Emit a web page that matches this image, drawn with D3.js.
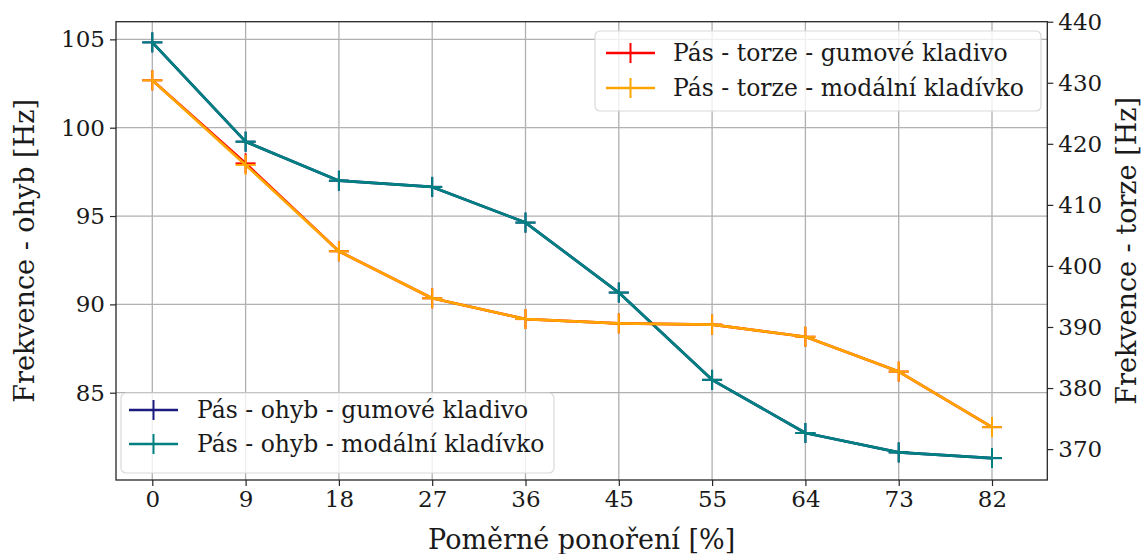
<!DOCTYPE html>
<html>
<head>
<meta charset="utf-8">
<script src="https://cdn.jsdelivr.net/npm/d3@7/dist/d3.min.js"></script>
<style>
  html, body { margin: 0; padding: 0; background: #ffffff; }
  svg { display: block; font-family: "DejaVu Serif", serif; }
</style>
</head>
<body>
<svg id="chart" width="1145" height="554"></svg>
<script>
// ---- data ----
const categories = ["0", "9", "18", "27", "36", "45", "55", "64", "73", "82"];
const ohybGumove  = [104.83, 99.21, 97.00, 96.65, 94.63, 90.67, 85.73, 82.72, 81.62, 81.30];
const ohybModalni = [104.83, 99.21, 97.00, 96.65, 94.63, 90.67, 85.73, 82.72, 81.62, 81.30];
const torzeGumove  = [430.4, 416.8, 402.4, 394.7, 391.3, 390.6, 390.4, 388.4, 382.7, 373.6];
const torzeModalni = [430.4, 416.55, 402.4, 394.7, 391.3, 390.6, 390.4, 388.4, 382.7, 373.6];
const leftTicks  = [85, 90, 95, 100, 105];
const rightTicks = [370, 380, 390, 400, 410, 420, 430, 440];
const leftDomain  = [80.06, 106.0];
const rightDomain = [364.94, 440];

const legendRight = [
  { label: "Pás - torze - gumové kladivo", color: "#ff0000" },
  { label: "Pás - torze - modální kladívko", color: "#ffa500" }
];
const legendLeft = [
  { label: "Pás - ohyb - gumové kladivo", color: "#1a1a80" },
  { label: "Pás - ohyb - modální kladívko", color: "#008080" }
];

// ---- layout ----
const W = 1145, H = 554;
const plot = { left: 116, right: 1047.3, top: 21.7, bottom: 480 };
const tickFont = 23;
const legendFont = 23.5;
const labelFont = 27;

const svg = d3.select("#chart");

const x = d3.scalePoint().domain(categories).range([152.3, 992]);
const yL = d3.scaleLinear().domain(leftDomain).range([plot.bottom, plot.top]);
const yR = d3.scaleLinear().domain(rightDomain).range([plot.bottom, plot.top]);

// grid
const grid = svg.append("g");
grid.selectAll("line.v").data(categories).enter().append("line")
  .attr("x1", d => x(d)).attr("x2", d => x(d))
  .attr("y1", plot.top).attr("y2", plot.bottom)
  .attr("stroke", "#b0b0b0").attr("stroke-width", 1.3);
grid.selectAll("line.h").data(leftTicks).enter().append("line")
  .attr("x1", plot.left).attr("x2", plot.right)
  .attr("y1", d => yL(d)).attr("y2", d => yL(d))
  .attr("stroke", "#b0b0b0").attr("stroke-width", 1.3);

// series
function drawSeries(vals, scale, color) {
  const line = d3.line().x((d, i) => x(categories[i])).y(d => scale(d));
  const g = svg.append("g");
  g.append("path").datum(vals).attr("d", line)
    .attr("fill", "none").attr("stroke", color).attr("stroke-width", 2.7)
    .attr("stroke-linejoin", "round");
  vals.forEach((v, i) => {
    const cx = x(categories[i]), cy = scale(v);
    g.append("line").attr("x1", cx - 10).attr("x2", cx + 10).attr("y1", cy).attr("y2", cy)
      .attr("stroke", color).attr("stroke-width", 2);
    g.append("line").attr("x1", cx).attr("x2", cx).attr("y1", cy - 10).attr("y2", cy + 10)
      .attr("stroke", color).attr("stroke-width", 2);
  });
}
drawSeries(ohybGumove, yL, legendLeft[0].color);
drawSeries(ohybModalni, yL, legendLeft[1].color);

function drawLegend(items, box) {
  const g = svg.append("g");
  g.append("rect").attr("x", box.x).attr("y", box.y).attr("width", box.w).attr("height", box.h)
    .attr("rx", 5).attr("fill", "#ffffff").attr("fill-opacity", 0.8)
    .attr("stroke", "#d9d9d9").attr("stroke-width", 1.2);
  items.forEach((it, i) => {
    const cy = box.y0 + i * box.dy;
    g.append("line").attr("x1", box.lx0).attr("x2", box.lx1).attr("y1", cy).attr("y2", cy)
      .attr("stroke", it.color).attr("stroke-width", 2.7);
    const mx = (box.lx0 + box.lx1) / 2;
    g.append("line").attr("x1", mx).attr("x2", mx).attr("y1", cy - 10).attr("y2", cy + 10)
      .attr("stroke", it.color).attr("stroke-width", 2);
    g.append("text").attr("x", box.tx).attr("y", cy).attr("dy", "0.35em")
      .attr("font-size", legendFont).attr("fill", "#1a1a1a").text(it.label);
  });
}
drawLegend(legendLeft, { x: 121, y: 393, w: 433, h: 80, y0: 410, dy: 34, lx0: 129, lx1: 178, tx: 197 });

// ax2 series on top
drawSeries(torzeGumove, yR, legendRight[0].color);
drawSeries(torzeModalni, yR, legendRight[1].color);

drawLegend(legendRight, { x: 595, y: 31, w: 446, h: 80, y0: 53, dy: 35, lx0: 606, lx1: 655, tx: 673 });

// spines
svg.append("rect").attr("x", plot.left).attr("y", plot.top)
  .attr("width", plot.right - plot.left).attr("height", plot.bottom - plot.top)
  .attr("fill", "none").attr("stroke", "#262626").attr("stroke-width", 1.3);

// axes
const axB = svg.append("g").attr("transform", `translate(0,${plot.bottom})`)
  .call(d3.axisBottom(x).tickSize(6).tickPadding(5));
const axL = svg.append("g").attr("transform", `translate(${plot.left},0)`)
  .call(d3.axisLeft(yL).tickValues(leftTicks).tickFormat(d3.format("d")).tickSize(6).tickPadding(5));
const axR = svg.append("g").attr("transform", `translate(${plot.right},0)`)
  .call(d3.axisRight(yR).tickValues(rightTicks).tickFormat(d3.format("d")).tickSize(6).tickPadding(5));
[axB, axL, axR].forEach(a => {
  a.select(".domain").remove();
  a.selectAll(".tick line").attr("stroke", "#262626").attr("stroke-width", 1.2);
  a.selectAll(".tick text").attr("font-size", tickFont).attr("fill", "#1a1a1a")
    .attr("font-family", "DejaVu Serif, serif");
});

// axis titles
svg.append("text").attr("x", (plot.left + plot.right) / 2).attr("y", 540)
  .attr("text-anchor", "middle").attr("dy", "0.35em").attr("font-size", labelFont).attr("fill", "#1a1a1a")
  .text("Poměrné ponoření [%]");
svg.append("text").attr("transform", `translate(25,${(plot.top + plot.bottom) / 2}) rotate(-90)`)
  .attr("text-anchor", "middle").attr("dy", "0.35em").attr("font-size", labelFont).attr("fill", "#1a1a1a")
  .text("Frekvence - ohyb [Hz]");
svg.append("text").attr("transform", `translate(1127,${(plot.top + plot.bottom) / 2}) rotate(-90)`)
  .attr("text-anchor", "middle").attr("dy", "0.35em").attr("font-size", labelFont).attr("fill", "#1a1a1a")
  .text("Frekvence - torze [Hz]");
</script>
</body>
</html>
